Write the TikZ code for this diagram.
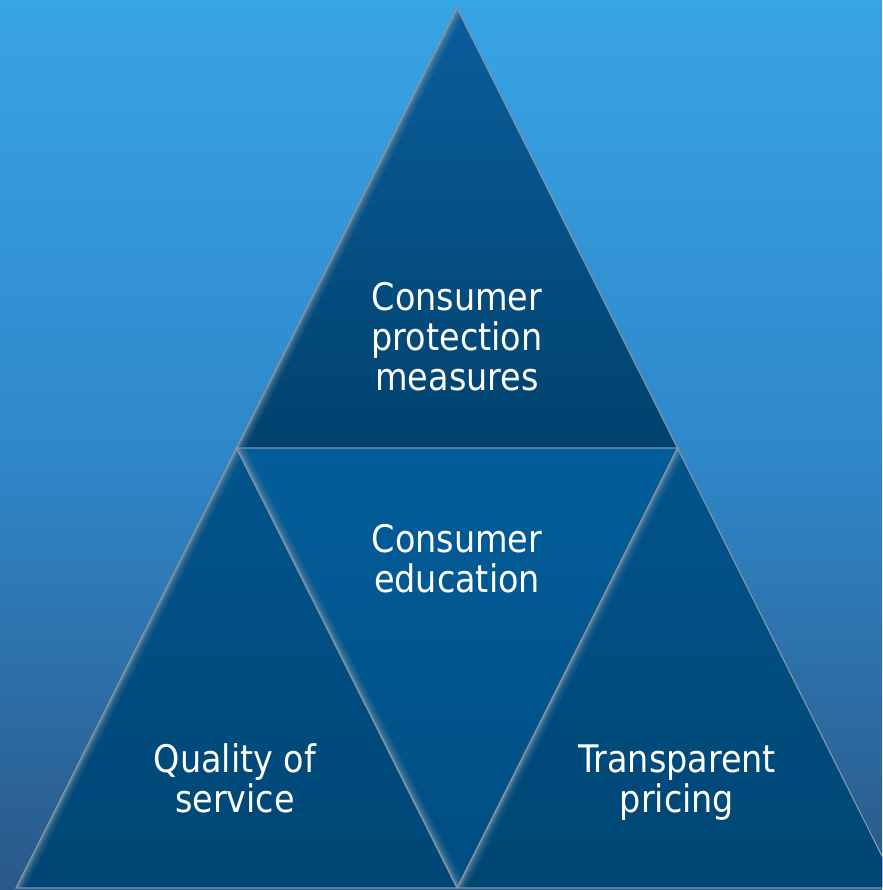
\documentclass[tikz,border=0pt]{standalone}
\usepackage{fontspec}
\setmainfont[FakeStretch=0.88]{DejaVu Sans}

\definecolor{bgtop}{RGB}{56,164,228}
\definecolor{bgmid}{RGB}{47,136,202}
\definecolor{bgbot}{RGB}{42,88,136}
\definecolor{toplight}{RGB}{10,94,156}
\definecolor{topdark}{RGB}{0,66,110}
\definecolor{midlight}{RGB}{3,93,154}
\definecolor{middark}{RGB}{0,78,130}
\definecolor{lowlight}{RGB}{1,84,140}
\definecolor{lowdark}{RGB}{0,70,116}
\definecolor{rim}{RGB}{128,150,168}

\tikzstyle{textlabel} = [text=white, align=center, font=\fontsize{38}{40}\selectfont]
\tikzstyle{rimline} = [draw=rim, line width=1.2pt, line join=miter]
\tikzstyle{toptri} = [top color=toplight, bottom color=topdark]
\tikzstyle{midtri} = [top color=midlight, bottom color=middark]
\tikzstyle{lowtri} = [top color=lowlight, bottom color=lowdark]

% soft bevel along the lit edge of a piece, kept inside the piece
\newcommand{\litedge}[4]{%
  \begin{scope}
    \clip #1 -- #2 -- #3 -- cycle;
    \foreach \w/\o in {16/0.14, 10/0.2, 6/0.28, 3/0.45}
      \draw[rim, line width=\w pt, opacity=\o] #1 -- #4;
  \end{scope}}

\begin{document}
\begin{tikzpicture}[x=1pt, y=-1pt]
\useasboundingbox (0,0) rectangle (882,890);
\clip (0,0) rectangle (882,890);

% backdrop
\fill[top color=bgtop, bottom color=bgbot, middle color=bgmid] (0,0) rectangle (882,890);

% corners of the big triangle and the midpoints of its sides
\coordinate (apex) at (457,8);
\coordinate (bl) at (16,888);
\coordinate (br) at (898,888);
\coordinate (ml) at (236.5,448);
\coordinate (mr) at (677.5,448);
\coordinate (bm) at (457,888);

% the four pieces
\fill[toptri] (apex) -- (ml) -- (mr) -- cycle;
\fill[midtri] (ml) -- (mr) -- (bm) -- cycle;
\fill[lowtri] (ml) -- (bl) -- (bm) -- cycle;
\fill[lowtri] (mr) -- (bm) -- (br) -- cycle;

\litedge{(apex)}{(ml)}{(mr)}{(ml)}
\litedge{(ml)}{(bm)}{(mr)}{(bm)}
\litedge{(ml)}{(bl)}{(bm)}{(bl)}
\litedge{(mr)}{(bm)}{(br)}{(bm)}

\draw[rimline] (apex) -- (bl) -- (br) -- cycle;
\draw[rimline] (ml) -- (mr) -- (bm) -- cycle;

% texts
\node (protect) [textlabel] at (457,337) {Consumer\\protection\\measures};
\node (edu) [textlabel] at (457,559) {Consumer\\education};
\node (quality) [textlabel] at (235,778) {Quality of\\service};
\node (pricing) [textlabel] at (677,783) {Transparent\\pricing};
\end{tikzpicture}
\end{document}
